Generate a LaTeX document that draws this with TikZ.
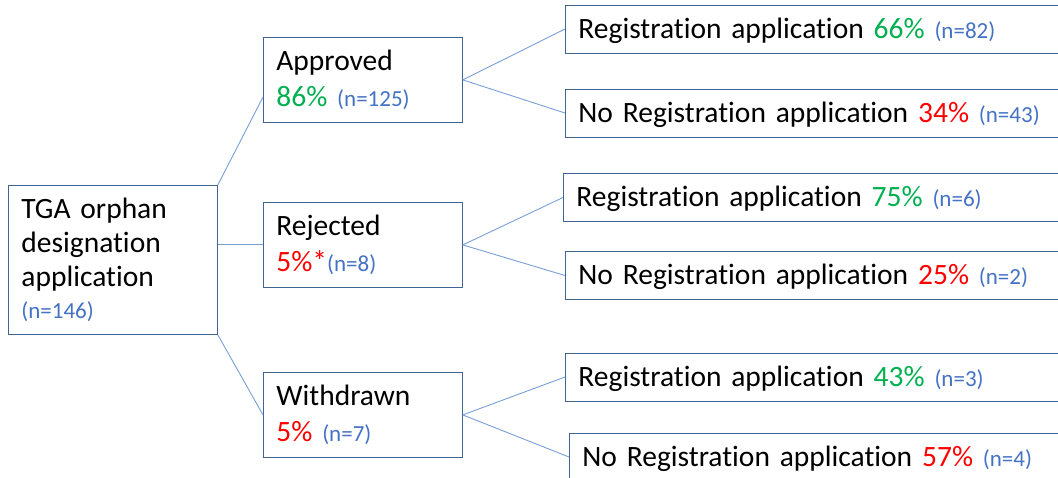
\documentclass[tikz,border=0pt]{standalone}
\usepackage{fontspec}
\setmainfont[Ligatures=NoCommon]{Carlito}
\usetikzlibrary{calc}
\definecolor{boxline}{RGB}{65,100,150}
\definecolor{linkline}{RGB}{120,160,215}
\definecolor{nblue}{RGB}{68,114,196}
\definecolor{pgreen}{RGB}{0,176,80}
\definecolor{pred}{RGB}{255,0,0}
\newcommand{\mainsize}{\fontsize{29.5}{35.5}\selectfont}
\newcommand{\nsize}{\fontsize{23}{26}\selectfont}
\newcommand{\nn}[1]{{\nsize\color{nblue}(n=#1)}}
\newcommand{\yes}[1]{{\color{pgreen}#1\%}}
\newcommand{\no}[1]{{\color{pred}#1\%}}

\begin{document}
\begin{tikzpicture}[x=1pt,y=-1pt]
                \tikzstyle{every node}= [fill=white,draw=boxline, line width=0.8pt, rectangle, align=left, inner ysep=0pt, inner xsep=13pt, font=\mainsize]
                \tikzstyle{midbox}= [anchor=north west, text width=173pt, minimum height=85pt]
                \tikzstyle{outbox}= [anchor=west, text width=500pt, minimum height=48pt, text height=20pt, text depth=2pt]
                \path[use as bounding box, clip] (0,0) rectangle (1058,477);

                \node (root) [anchor=north west, text width=183pt, minimum height=149pt] at (8,185) {TGA orphan\\[-1.5pt]designation\\[-1.5pt]application\\[-3pt]\nn{146}};
                \node (app) [midbox] at (263,37) {Approved\\\yes{86} \nn{125}};
                \node (rej) [midbox] at (263,202) {Rejected\\\no{5}{\color{pred}*}\nn{8}};
                \node (wd) [midbox] at (263,372) {Withdrawn\\\no{5} \nn{7}};

                \node (app1) [outbox] at (565,29) {Registration application \yes{66} \nn{82}};
                \node (app2) [outbox] at (565,113) {No Registration application \no{34} \nn{43}};
                \node (rej1) [outbox] at (563,197.5) {Registration application \yes{75} \nn{6}};
                \node (rej2) [outbox] at (565,275.5) {No Registration application \no{25} \nn{2}};
                \node (wd1) [outbox] at (565,377) {Registration application \yes{43} \nn{3}};
                \node (wd2) [outbox] at (569,457) {No Registration application \no{57} \nn{4}};

                 \path [-,linkline,line width=0.9pt](root.north east) edge ($(app.north west)!0.7!(app.south west)$)
                                              (rej.west -| root.east) edge (rej.west)
                                              (root.south east) edge (wd.west)
                                              (app.east) edge (app1.west)
                                                  edge (app2.west)
                                              (rej.east) edge (rej1.west)
                                                  edge (rej2.west)
                                              (wd.east) edge (wd1.west)
                                                  edge (wd2.west);
\end{tikzpicture}
\end{document}
